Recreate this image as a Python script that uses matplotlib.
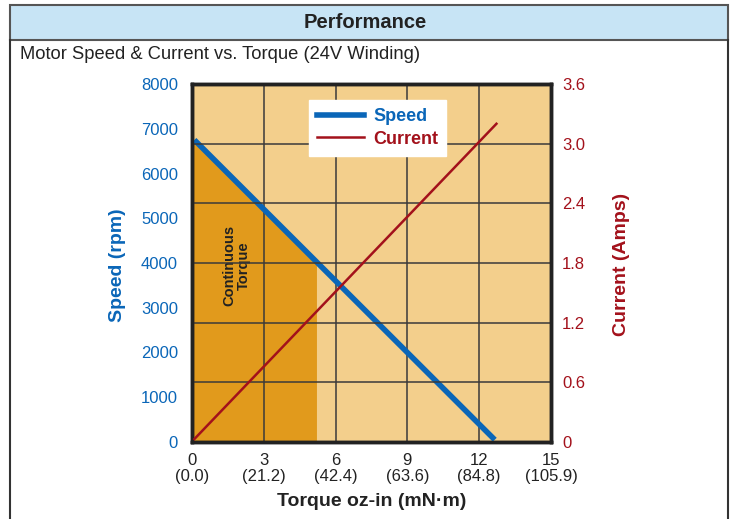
import numpy as np
import matplotlib.pyplot as plt
from matplotlib.patches import Rectangle
from matplotlib.lines import Line2D

plt.rcParams['font.family'] = ['Liberation Sans', 'DejaVu Sans']

# data
torque_speed = [0.1, 12.65]
speed_rpm = [6750, 50]
torque_current = [0.1, 12.72]
current_amps = [0.03, 3.2]
cont_torque = 5.2
x_ticks = [0, 3, 6, 9, 12, 15]
x_labels = ["0\n(0.0)", "3\n(21.2)", "6\n(42.4)", "9\n(63.6)", "12\n(84.8)", "15\n(105.9)"]
speed_ticks = [0, 1000, 2000, 3000, 4000, 5000, 6000, 7000, 8000]
current_ticks = [0, 0.6, 1.2, 1.8, 2.4, 3.0, 3.6]

blue = '#0a66b8'
red = '#a3111b'
light = '#f3cf8c'
dark = '#e19a1c'

fig = plt.figure(figsize=(7.3, 5.19), dpi=100)

# frame + header band
W, H = 730, 519
def fx(px): return px / W
def fy(py): return 1 - py / H
fig.patches.append(Rectangle((fx(10), fy(40)), fx(728) - fx(10), fy(5) - fy(40),
                             transform=fig.transFigure, facecolor='#c7e4f5',
                             edgecolor='#555555', lw=1.5))
fig.add_artist(Line2D([fx(10), fx(10)], [0, fy(40)], color='#333333', lw=1.5))
fig.add_artist(Line2D([fx(728), fx(728)], [0, fy(40)], color='#333333', lw=1.5))
fig.text(0.5, fy(23), "Performance", ha='center', va='center', fontsize=14.5,
         fontweight='bold', color='#222222')
fig.text(fx(20), fy(54), "Motor Speed & Current vs. Torque (24V Winding)", ha='left',
         va='center', fontsize=13.2, color='#222222')

ax = fig.add_axes([192 / W, 1 - 442 / H, (551 - 192) / W, (442 - 84) / H])
ax.set_facecolor(light)
ax.set_xlim(0, 15)
ax.set_ylim(0, 8000)

# continuous torque area under speed line
xs = np.array([0, cont_torque])
slope = (speed_rpm[1] - speed_rpm[0]) / (torque_speed[1] - torque_speed[0])
ys = speed_rpm[0] + slope * (xs - torque_speed[0])
ax.fill_between(xs, 0, ys, color=dark, lw=0, zorder=1)
ax.text(cont_torque * 0.36, 3950, "Continuous\nTorque", rotation=90, ha='center',
        va='center', fontsize=10.5, fontweight='bold', color='#222222', zorder=3,
        linespacing=1.1)

ax2 = ax.twinx()
ax2.set_ylim(0, 3.6)

# grid
for x in x_ticks[1:-1]:
    ax.axvline(x, color='#3a3a3a', lw=1.1, zorder=2)
for c in current_ticks[1:-1]:
    ax2.axhline(c, color='#3a3a3a', lw=1.1, zorder=2)

ax.plot(torque_speed, speed_rpm, color=blue, lw=4, zorder=4, solid_capstyle='butt')
ax2.plot(torque_current, current_amps, color=red, lw=1.8, zorder=4)

ax.set_xticks(x_ticks)
ax.set_xticklabels(x_labels, fontsize=12, color='#222222', linespacing=1.05)
ax.set_yticks(speed_ticks)
ax.set_yticklabels([str(s) for s in speed_ticks], fontsize=12, color=blue)
ax2.set_yticks(current_ticks)
ax2.set_yticklabels(["0" if c == 0 else f"{c:.1f}" for c in current_ticks],
                    fontsize=12, color=red)
ax.tick_params(axis='y', length=0, pad=10)
ax.tick_params(axis='x', length=0, pad=8)
ax2.tick_params(axis='y', length=0, pad=8)

for a in (ax, ax2):
    for s in a.spines.values():
        s.set_linewidth(2.5)
        s.set_color('#222222')

ax.set_ylabel("Speed (rpm)", fontsize=14, fontweight='bold', color=blue)
ax.yaxis.set_label_coords((126 - 192) / 359, 0.495)
ax2.set_ylabel("Current (Amps)", fontsize=14, fontweight='bold', color=red)
ax2.yaxis.set_label_coords((613 - 192) / 359, 0.497)
ax.set_xlabel("Torque oz-in (mN·m)", fontsize=14, fontweight='bold', color='#222222')
ax.xaxis.set_label_coords(0.5, -(493 - 442) / 358)

handles = [Line2D([], [], color=blue, lw=4), Line2D([], [], color=red, lw=1.8)]
leg = ax.legend(handles, ["Speed", "Current"], loc='upper left',
                bbox_to_anchor=((309 - 192) / 359, (442 - 100) / 358), frameon=True,
                fancybox=False, framealpha=1, edgecolor='white', fontsize=13,
                handlelength=2.6, borderpad=0.45, labelspacing=0.3,
                handletextpad=0.5, borderaxespad=0)
for t, col in zip(leg.get_texts(), [blue, red]):
    t.set_color(col)
    t.set_fontweight('bold')
leg.set_zorder(10)
leg.remove()
ax2.add_artist(leg)

fig.savefig("out.png", dpi=100)
